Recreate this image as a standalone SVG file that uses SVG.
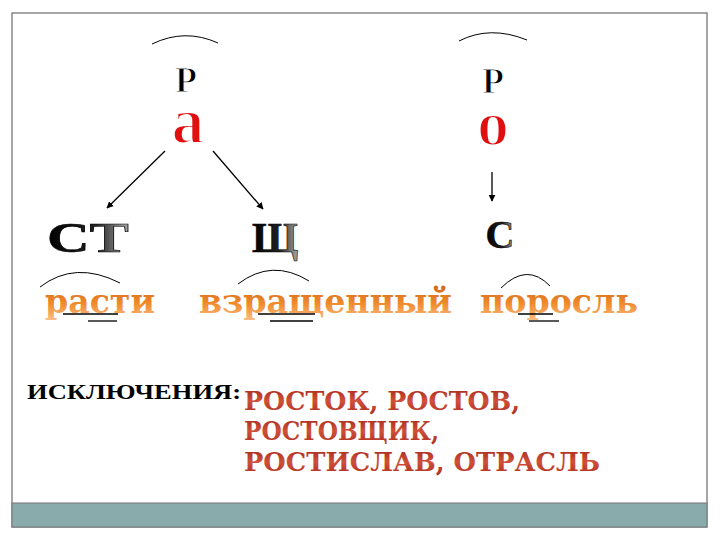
<svg xmlns="http://www.w3.org/2000/svg" width="720" height="540" viewBox="0 0 720 540">
<defs>
<linearGradient id="orange" x1="0" y1="0" x2="0" y2="1">
<stop offset="0" stop-color="#c9601a"/>
<stop offset="0.55" stop-color="#f08a2a"/>
<stop offset="1" stop-color="#fbc08a"/>
</linearGradient>
<linearGradient id="red" x1="0" y1="0" x2="0" y2="1">
<stop offset="0" stop-color="#a02418"/>
<stop offset="0.5" stop-color="#d0503a"/>
<stop offset="1" stop-color="#a82a1c"/>
</linearGradient>
<linearGradient id="dark" x1="0" y1="0" x2="1" y2="0">
<stop offset="0" stop-color="#000"/>
<stop offset="0.6" stop-color="#222"/>
<stop offset="1" stop-color="#aaa"/>
</linearGradient>
<marker id="ah" viewBox="0 0 10 10" refX="9" refY="5" markerWidth="7" markerHeight="7" orient="auto" markerUnits="userSpaceOnUse">
<path d="M0,0 L10,5 L0,10 z" fill="#000"/>
</marker>
</defs>
<style>
.arc{fill:none;stroke:#000;stroke-width:1}
.ul{stroke:#000;stroke-width:1.3}
.big{font-weight:bold;fill:url(#dark);stroke:#000;stroke-width:0.6}
.word{font-weight:bold;fill:url(#orange);font-size:33px}
.exc{font-weight:bold;fill:url(#red);font-size:26px}
.thin{font-weight:bold;stroke:#fff}
</style>
<rect x="0" y="0" width="720" height="540" fill="#fff"/>
<rect x="12" y="13" width="695" height="514" fill="none" stroke="#777" stroke-width="1.3"/>
<rect x="12" y="503" width="695" height="24" fill="#8aabab" stroke="#777" stroke-width="1"/>

<g id="node-a">
<path class="arc" d="M152,44 Q185,28 218,43"/>
<text class="thin" font-family="Liberation Serif" x="186" y="92" font-size="36" stroke-width="1.2" text-anchor="middle" fill="#000">Р</text>
<text class="thin" font-family="Liberation Serif" x="188" y="143" font-size="66" stroke-width="2.2" text-anchor="middle" fill="#e01010">а</text>
</g>
<g id="node-o">
<path class="arc" d="M459,41 Q490,25 527,40"/>
<text class="thin" font-family="Liberation Serif" x="493" y="93" font-size="36" stroke-width="1.2" text-anchor="middle" fill="#000">Р</text>
<text class="thin" font-family="Liberation Serif" x="493" y="145" font-size="64" stroke-width="2.2" text-anchor="middle" fill="#e01010">о</text>
</g>
<g id="node-st">
<text class="big" font-family="Liberation Serif" x="88" y="252" font-size="42" text-anchor="middle" textLength="82" lengthAdjust="spacingAndGlyphs">СТ</text>
</g>
<g id="node-shch">
<text class="big" font-family="Liberation Serif" x="275" y="252" font-size="42" text-anchor="middle">Щ</text>
</g>
<g id="node-s">
<text class="big" font-family="Liberation Serif" x="500" y="248" font-size="40" text-anchor="middle">С</text>
</g>

<g id="connectors">
<line x1="165" y1="151" x2="107" y2="208" stroke="#000" stroke-width="1.3" marker-end="url(#ah)"/>
<line x1="213" y1="151" x2="263" y2="209" stroke="#000" stroke-width="1.3" marker-end="url(#ah)"/>
<line x1="492" y1="172" x2="492" y2="201" stroke="#000" stroke-width="1.3" marker-end="url(#ah)"/>
</g>

<g id="words">
<text class="word" font-family="DejaVu Serif" x="45" y="313" textLength="110" lengthAdjust="spacingAndGlyphs">расти</text>
<path class="arc" d="M40,287 Q75,260 120,283"/>
<line class="ul" x1="63" y1="314" x2="118" y2="314"/>
<line class="ul" x1="88" y1="321" x2="117" y2="321"/>

<text class="word" font-family="DejaVu Serif" x="199" y="313" textLength="253" lengthAdjust="spacingAndGlyphs">взращенный</text>
<path class="arc" d="M238,284 Q272,258 309,281"/>
<line class="ul" x1="258" y1="314" x2="315" y2="314"/>
<line class="ul" x1="270" y1="321" x2="313" y2="321"/>

<text class="word" font-family="DejaVu Serif" x="480" y="313" textLength="158" lengthAdjust="spacingAndGlyphs">поросль</text>
<path class="arc" d="M501,288 Q527,262 550,286"/>
<line class="ul" x1="518" y1="314" x2="553" y2="314"/>
<line class="ul" x1="529" y1="321" x2="559" y2="321"/>
</g>

<g id="exceptions">
<text font-family="Liberation Serif" x="27" y="399" font-size="22" font-weight="bold" fill="#000" textLength="214" lengthAdjust="spacingAndGlyphs">ИСКЛЮЧЕНИЯ:</text>
<text class="exc" font-family="DejaVu Serif" x="244" y="410" textLength="276" lengthAdjust="spacingAndGlyphs">РОСТОК, РОСТОВ,</text>
<text class="exc" font-family="DejaVu Serif" x="244" y="440" textLength="195" lengthAdjust="spacingAndGlyphs">РОСТОВЩИК,</text>
<text class="exc" font-family="DejaVu Serif" x="244" y="471" textLength="356" lengthAdjust="spacingAndGlyphs">РОСТИСЛАВ, ОТРАСЛЬ</text>
</g>
</svg>
